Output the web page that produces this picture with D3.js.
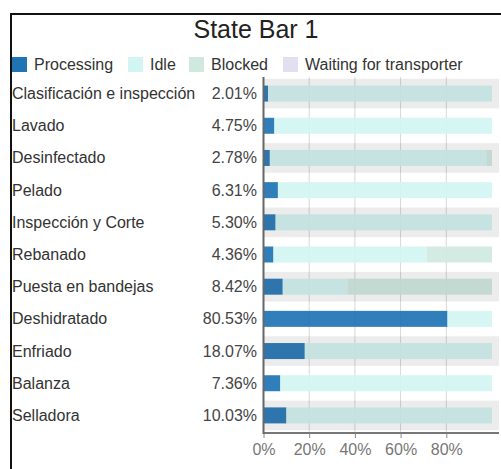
<!DOCTYPE html>
<html><head><meta charset="utf-8">
<script src="https://cdn.jsdelivr.net/npm/d3@7"></script>
<style>
html,body{margin:0;padding:0;background:#fff;}
svg{display:block;font-family:"Liberation Sans",Arial,sans-serif;}
</style></head>
<body>
<svg id="chart" width="501" height="469"></svg>
<script>
const title = "State Bar 1";
const categories = ["Clasificación e inspección","Lavado","Desinfectado","Pelado","Inspección y Corte","Rebanado","Puesta en bandejas","Deshidratado","Enfriado","Balanza","Selladora"];
const seriesNames = ["Processing","Idle","Blocked","Waiting for transporter"];
const seriesColors = ["#1f74b4","#d2f5f3","#cfe9df","#e1dff0"];
const processing = [2.01,4.75,2.78,6.31,5.30,4.36,8.42,80.53,18.07,7.36,10.03];
const idle = [97.99,95.25,94.72,93.69,94.70,67.04,28.28,19.47,81.93,92.64,89.97];
const blocked = [0,0,2.50,0,0,28.60,63.30,0,0,0,0];
const waiting = [0,0,0,0,0,0,0,0,0,0,0];
const tickValues = [0,20,40,60,80];

const svg = d3.select("#chart");
// frame
svg.append("rect").attr("x",11).attr("y",14).attr("width",600).attr("height",600)
  .attr("fill","none").attr("stroke","#111").attr("stroke-width",2);

svg.append("text").attr("x",256).attr("y",38).attr("text-anchor","middle")
  .attr("font-size",25).attr("fill","#222").text(title);

// legend
const legendX = [12,128,189,283];
seriesNames.forEach((s,i)=>{
  svg.append("rect").attr("x",legendX[i]).attr("y",57).attr("width",15).attr("height",15).attr("fill",seriesColors[i]);
  svg.append("text").attr("x",legendX[i]+22).attr("y",70).attr("font-size",16).attr("fill","#333").text(s);
});

const x = d3.scaleLinear().domain([0,100]).range([263.5,492]);
const y = d3.scaleBand().domain(categories).range([77.5,431.5]);
const bandH = y.bandwidth()*0.92;
const barH = 16;

const rows = categories.map((c,i)=>({c,i,vals:[processing[i],idle[i],blocked[i],waiting[i]]}));

// gridlines
svg.append("g").selectAll("line").data(tickValues.slice(1)).join("line")
  .attr("x1",d=>x(d)).attr("x2",d=>x(d)).attr("y1",77).attr("y2",433)
  .attr("stroke","#d8d8d8").attr("stroke-width",1);

// stacked bars
const stack = d3.stack().keys([0,1,2,3]).value((d,k)=>d.vals[k]);
const stacked = stack(rows);
svg.append("g").selectAll("g").data(stacked).join("g")
  .attr("fill",(d,i)=>seriesColors[i]).attr("fill-opacity",0.92)
  .selectAll("rect").data(d=>d).join("rect")
  .attr("x",d=>x(d[0])).attr("width",d=>Math.max(0,x(d[1])-x(d[0])))
  .attr("y",d=>y(d.data.c)+y.bandwidth()/2-barH/2).attr("height",barH);

// alternate band overlay
svg.append("g").selectAll("rect").data(rows.filter(r=>r.i%2===0)).join("rect")
  .attr("x",264).attr("width",235)
  .attr("y",d=>y(d.c)+(y.bandwidth()-bandH)/2).attr("height",bandH)
  .attr("fill","#000").attr("fill-opacity",0.075);

// labels
svg.append("g").selectAll("text").data(rows).join("text")
  .attr("x",12).attr("y",d=>y(d.c)+y.bandwidth()/2+5.5)
  .attr("font-size",16).attr("fill","#333").text(d=>d.c);
svg.append("g").selectAll("text").data(rows).join("text")
  .attr("x",257).attr("y",d=>y(d.c)+y.bandwidth()/2+5.5).attr("text-anchor","end")
  .attr("font-size",16).attr("fill","#444").text(d=>processing[d.i].toFixed(2)+"%");

// x axis
const axis = d3.axisBottom(x).tickValues(tickValues).tickFormat(d=>d+"%").tickSize(5).tickSizeOuter(0);
const ax = svg.append("g").attr("transform","translate(0,433)").call(axis);
ax.select(".domain").attr("d","M263.5,0H499").attr("stroke","#777").attr("stroke-width",2);
ax.selectAll(".tick line").attr("stroke","#888");
ax.selectAll(".tick text").attr("font-size",16).attr("fill","#777").attr("dy","0.9em")
  .attr("font-family","'Liberation Sans',Arial,sans-serif");
// y axis line
svg.append("line").attr("x1",263.5).attr("x2",263.5).attr("y1",77).attr("y2",434)
  .attr("stroke","#666").attr("stroke-width",2);
</script>
</body></html>
